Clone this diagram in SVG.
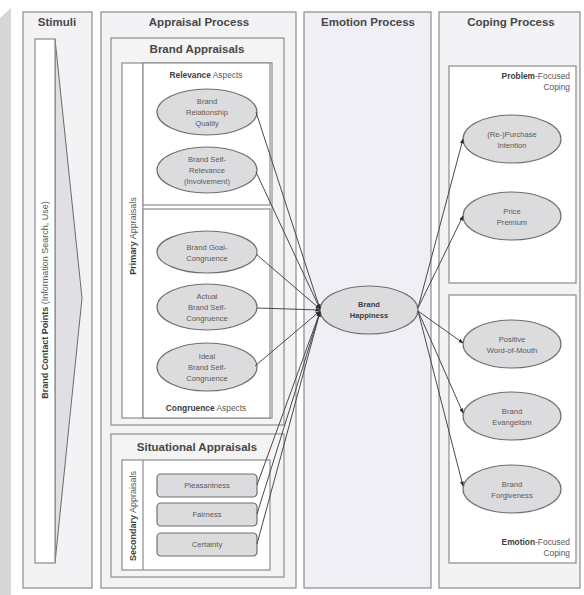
<svg xmlns="http://www.w3.org/2000/svg" width="584" height="595" viewBox="0 0 584 595">
  <style>
    .col { fill: #f3f3f5; stroke: #8c8c8c; stroke-width: 1.2; }
    .emo { fill: #efeff5; stroke: #8c8c8c; stroke-width: 1.2; }
    .box { fill: #f4f4f5; stroke: #8c8c8c; stroke-width: 1.2; }
    .inner { fill: #ffffff; stroke: #8c8c8c; stroke-width: 1.2; }
    .node { fill: #dcdcde; stroke: #6f6f6f; stroke-width: 1.2; }
    .title { font-family: "Liberation Sans", Arial, sans-serif; font-size: 11.5px; font-weight: bold; fill: #474747; text-anchor: middle; }
    .lbl { font-family: "Liberation Sans", Arial, sans-serif; font-size: 7.6px; fill: #5a5a5a; text-anchor: middle; }
    .cap { font-family: "Liberation Sans", Arial, sans-serif; font-size: 8.4px; fill: #5a5a5a; }
    .vcap { font-family: "Liberation Sans", Arial, sans-serif; font-size: 9px; fill: #5a5a5a; text-anchor: middle; }
    .b { font-weight: bold; fill: #3e3e3e; }
    .edge { fill: none; stroke: #4a4a4a; stroke-width: 1; marker-end: url(#arrow); }
  </style>
  <defs>
    <marker id="arrow" viewBox="0 0 10 10" refX="9" refY="5" markerWidth="5" markerHeight="5" orient="auto-start-reverse">
      <path d="M0,1 L10,5 L0,9 z" fill="#2e2e2e"/>
    </marker>
  </defs>

  <rect x="0" y="0" width="584" height="595" fill="#ffffff"/>
  <!-- page edge strip -->
  <polygon points="0,18 11,8 11,595 0,595" fill="#d6d6d6"/>

  <!-- Stimuli column -->
  <g id="stimuli">
    <rect class="col" x="23" y="12" width="69" height="576"/>
    <text class="title" x="57" y="26">Stimuli</text>
    <polygon points="55,39 82,298 55,563" fill="#e0e0e4" stroke="#6a6a6a" stroke-width="1"/>
    <rect x="35" y="39" width="20" height="524" fill="#ffffff" stroke="#8c8c8c" stroke-width="1.2"/>
    <text class="vcap" transform="translate(48,300) rotate(-90)" font-size="9.4"><tspan class="b">Brand Contact Points</tspan> (Information Search, Use)</text>
  </g>

  <!-- Appraisal Process column -->
  <g id="appraisal-process">
    <rect class="col" x="101" y="12" width="195" height="576"/>
    <text class="title" x="199" y="26">Appraisal Process</text>
  </g>

  <g id="brand-appraisals">
    <rect class="box" x="111" y="38" width="173" height="387"/>
    <text class="title" x="197" y="53">Brand Appraisals</text>
    <rect class="inner" x="122" y="63" width="150" height="355"/>
    <line x1="143" y1="63" x2="143" y2="418" stroke="#8c8c8c" stroke-width="1.2"/>
    <text class="vcap" transform="translate(136,236) rotate(-90)"><tspan class="b">Primary</tspan> Appraisals</text>
  </g>

  <g id="relevance-aspects">
    <rect class="inner" x="143" y="63" width="127" height="142"/>
    <text class="cap" x="206" y="78" text-anchor="middle"><tspan class="b">Relevance</tspan> Aspects</text>
  </g>

  <g id="congruence-aspects">
    <rect class="inner" x="143" y="209" width="127" height="209"/>
    <text class="cap" x="206" y="411" text-anchor="middle"><tspan class="b">Congruence</tspan> Aspects</text>
  </g>

  <g id="brand-relationship-quality">
    <ellipse class="node" cx="207" cy="112" rx="50" ry="23"/>
    <text class="lbl" x="207" y="104">Brand</text>
    <text class="lbl" x="207" y="115">Relationship</text>
    <text class="lbl" x="207" y="126">Quality</text>
  </g>

  <g id="brand-self-relevance">
    <ellipse class="node" cx="207" cy="170" rx="50" ry="23"/>
    <text class="lbl" x="207" y="162">Brand Self-</text>
    <text class="lbl" x="207" y="173">Relevance</text>
    <text class="lbl" x="207" y="184">(Involvement)</text>
  </g>

  <g id="brand-goal-congruence">
    <ellipse class="node" cx="207" cy="252" rx="50" ry="21"/>
    <text class="lbl" x="207" y="250">Brand Goal-</text>
    <text class="lbl" x="207" y="261">Congruence</text>
  </g>

  <g id="actual-brand-self-congruence">
    <ellipse class="node" cx="207" cy="307" rx="50" ry="23"/>
    <text class="lbl" x="207" y="299">Actual</text>
    <text class="lbl" x="207" y="310">Brand Self-</text>
    <text class="lbl" x="207" y="321">Congruence</text>
  </g>

  <g id="ideal-brand-self-congruence">
    <ellipse class="node" cx="207" cy="367" rx="50" ry="24"/>
    <text class="lbl" x="207" y="359">Ideal</text>
    <text class="lbl" x="207" y="370">Brand Self-</text>
    <text class="lbl" x="207" y="381">Congruence</text>
  </g>

  <g id="situational-appraisals">
    <rect class="box" x="111" y="434" width="173" height="143"/>
    <text class="title" x="197" y="451">Situational Appraisals</text>
    <rect class="inner" x="122" y="460" width="148" height="110"/>
    <line x1="143" y1="460" x2="143" y2="570" stroke="#8c8c8c" stroke-width="1.2"/>
    <text class="vcap" transform="translate(136,516) rotate(-90)"><tspan class="b">Secondary</tspan> Appraisals</text>
  </g>

  <g id="pleasantness">
    <rect class="node" x="157" y="474" width="100" height="23" rx="4"/>
    <text class="lbl" x="207" y="488">Pleasantness</text>
  </g>
  <g id="fairness">
    <rect class="node" x="157" y="503" width="100" height="23" rx="4"/>
    <text class="lbl" x="207" y="517">Fairness</text>
  </g>
  <g id="certainty">
    <rect class="node" x="157" y="533" width="100" height="23" rx="4"/>
    <text class="lbl" x="207" y="547">Certainty</text>
  </g>

  <!-- Emotion Process column -->
  <g id="emotion-process">
    <rect class="emo" x="304" y="12" width="127" height="576"/>
    <text class="title" x="368" y="26">Emotion Process</text>
  </g>

  <!-- Coping Process column -->
  <g id="coping-process">
    <rect class="col" x="439" y="12" width="141" height="576"/>
    <text class="title" x="511" y="26">Coping Process</text>
  </g>

  <g id="problem-focused-coping">
    <rect class="inner" x="449" y="66" width="127" height="217"/>
    <text class="cap" x="570" y="79" text-anchor="end"><tspan class="b">Problem</tspan>-Focused</text>
    <text class="cap" x="570" y="90" text-anchor="end">Coping</text>
  </g>

  <g id="emotion-focused-coping">
    <rect class="inner" x="449" y="295" width="127" height="268"/>
    <text class="cap" x="570" y="545" text-anchor="end"><tspan class="b">Emotion</tspan>-Focused</text>
    <text class="cap" x="570" y="556" text-anchor="end">Coping</text>
  </g>

  <g id="brand-happiness">
    <ellipse class="node" cx="369" cy="310" rx="49" ry="24"/>
    <text class="lbl b" x="369" y="307">Brand</text>
    <text class="lbl b" x="369" y="318">Happiness</text>
  </g>

  <g id="re-purchase-intention">
    <ellipse class="node" cx="512" cy="139" rx="49" ry="24"/>
    <text class="lbl" x="512" y="137">(Re-)Purchase</text>
    <text class="lbl" x="512" y="148">Intention</text>
  </g>
  <g id="price-premium">
    <ellipse class="node" cx="512" cy="216" rx="49" ry="24"/>
    <text class="lbl" x="512" y="214">Price</text>
    <text class="lbl" x="512" y="225">Premium</text>
  </g>
  <g id="positive-word-of-mouth">
    <ellipse class="node" cx="512" cy="344" rx="49" ry="24"/>
    <text class="lbl" x="512" y="342">Positive</text>
    <text class="lbl" x="512" y="353">Word-of-Mouth</text>
  </g>
  <g id="brand-evangelism">
    <ellipse class="node" cx="512" cy="416" rx="49" ry="24"/>
    <text class="lbl" x="512" y="414">Brand</text>
    <text class="lbl" x="512" y="425">Evangelism</text>
  </g>
  <g id="brand-forgiveness">
    <ellipse class="node" cx="512" cy="489" rx="49" ry="24"/>
    <text class="lbl" x="512" y="487">Brand</text>
    <text class="lbl" x="512" y="498">Forgiveness</text>
  </g>

  <!-- Connectors -->
  <g id="connectors">
    <line class="edge" x1="256" y1="112" x2="320" y2="309"/>
    <line class="edge" x1="256" y1="172" x2="320" y2="309"/>
    <line class="edge" x1="256" y1="254" x2="320" y2="309"/>
    <line class="edge" x1="257" y1="308" x2="320" y2="310"/>
    <line class="edge" x1="255" y1="366" x2="320" y2="311"/>
    <line class="edge" x1="257" y1="485" x2="320" y2="312"/>
    <line class="edge" x1="257" y1="514" x2="320" y2="312"/>
    <line class="edge" x1="257" y1="544" x2="320" y2="312"/>
    <line class="edge" x1="418" y1="308" x2="463" y2="139"/>
    <line class="edge" x1="418" y1="308" x2="463" y2="216"/>
    <line class="edge" x1="418" y1="311" x2="463" y2="343"/>
    <line class="edge" x1="418" y1="311" x2="463" y2="413"/>
    <line class="edge" x1="418" y1="311" x2="463" y2="486"/>
  </g>
</svg>
